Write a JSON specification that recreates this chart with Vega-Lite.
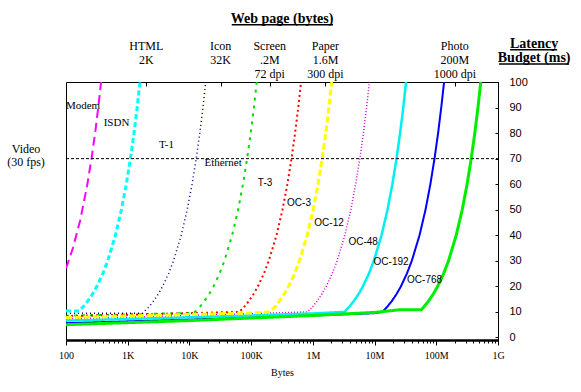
{
  "$schema": "https://vega.github.io/schema/vega-lite/v6.json",
  "autosize": "none",
  "width": 432,
  "height": 258,
  "padding": {"left": 66, "top": 82, "right": 83, "bottom": 52},
  "background": "white",
  "config": {"view": {"stroke": "black", "strokeWidth": 1}},
  "datasets": {
    "curves": [
      {"net": "Modem", "bytes": 100, "ms": 27},
      {"net": "Modem", "bytes": 130, "ms": 35.1},
      {"net": "Modem", "bytes": 170, "ms": 45.9},
      {"net": "Modem", "bytes": 220, "ms": 59.5},
      {"net": "Modem", "bytes": 260, "ms": 70.2},
      {"net": "Modem", "bytes": 300, "ms": 81},
      {"net": "Modem", "bytes": 340, "ms": 91.8},
      {"net": "Modem", "bytes": 370, "ms": 100},
      {"net": "ISDN", "bytes": 100, "ms": 10.4},
      {"net": "ISDN", "bytes": 164, "ms": 10.4},
      {"net": "ISDN", "bytes": 190, "ms": 12},
      {"net": "ISDN", "bytes": 221, "ms": 14},
      {"net": "ISDN", "bytes": 269, "ms": 17},
      {"net": "ISDN", "bytes": 316, "ms": 20},
      {"net": "ISDN", "bytes": 395, "ms": 25},
      {"net": "ISDN", "bytes": 474, "ms": 30},
      {"net": "ISDN", "bytes": 632, "ms": 40},
      {"net": "ISDN", "bytes": 790, "ms": 50},
      {"net": "ISDN", "bytes": 949, "ms": 60},
      {"net": "ISDN", "bytes": 1107, "ms": 70},
      {"net": "ISDN", "bytes": 1265, "ms": 80},
      {"net": "ISDN", "bytes": 1423, "ms": 90},
      {"net": "ISDN", "bytes": 1581, "ms": 100},
      {"net": "T-1", "bytes": 100, "ms": 9.5},
      {"net": "T-1", "bytes": 1748, "ms": 9.5},
      {"net": "T-1", "bytes": 2208, "ms": 12},
      {"net": "T-1", "bytes": 2576, "ms": 14},
      {"net": "T-1", "bytes": 3128, "ms": 17},
      {"net": "T-1", "bytes": 3680, "ms": 20},
      {"net": "T-1", "bytes": 4600, "ms": 25},
      {"net": "T-1", "bytes": 5520, "ms": 30},
      {"net": "T-1", "bytes": 7360, "ms": 40},
      {"net": "T-1", "bytes": 9200, "ms": 50},
      {"net": "T-1", "bytes": 11040, "ms": 60},
      {"net": "T-1", "bytes": 12880, "ms": 70},
      {"net": "T-1", "bytes": 14720, "ms": 80},
      {"net": "T-1", "bytes": 16560, "ms": 90},
      {"net": "T-1", "bytes": 18400, "ms": 100},
      {"net": "Ethernet", "bytes": 100, "ms": 8.5},
      {"net": "Ethernet", "bytes": 1000, "ms": 9},
      {"net": "Ethernet", "bytes": 10000, "ms": 9.6},
      {"net": "Ethernet", "bytes": 12300, "ms": 10},
      {"net": "Ethernet", "bytes": 14760, "ms": 12},
      {"net": "Ethernet", "bytes": 17220, "ms": 14},
      {"net": "Ethernet", "bytes": 20910, "ms": 17},
      {"net": "Ethernet", "bytes": 24600, "ms": 20},
      {"net": "Ethernet", "bytes": 30750, "ms": 25},
      {"net": "Ethernet", "bytes": 36900, "ms": 30},
      {"net": "Ethernet", "bytes": 49200, "ms": 40},
      {"net": "Ethernet", "bytes": 61500, "ms": 50},
      {"net": "Ethernet", "bytes": 73800, "ms": 60},
      {"net": "Ethernet", "bytes": 86100, "ms": 70},
      {"net": "Ethernet", "bytes": 98400, "ms": 80},
      {"net": "Ethernet", "bytes": 110700, "ms": 90},
      {"net": "Ethernet", "bytes": 123000, "ms": 100},
      {"net": "T-3", "bytes": 100, "ms": 8.4},
      {"net": "T-3", "bytes": 1000, "ms": 8.9},
      {"net": "T-3", "bytes": 10000, "ms": 9.5},
      {"net": "T-3", "bytes": 64400, "ms": 10},
      {"net": "T-3", "bytes": 77300, "ms": 12},
      {"net": "T-3", "bytes": 90200, "ms": 14},
      {"net": "T-3", "bytes": 109500, "ms": 17},
      {"net": "T-3", "bytes": 128800, "ms": 20},
      {"net": "T-3", "bytes": 161000, "ms": 25},
      {"net": "T-3", "bytes": 193200, "ms": 30},
      {"net": "T-3", "bytes": 257600, "ms": 40},
      {"net": "T-3", "bytes": 322000, "ms": 50},
      {"net": "T-3", "bytes": 386400, "ms": 60},
      {"net": "T-3", "bytes": 450800, "ms": 70},
      {"net": "T-3", "bytes": 515200, "ms": 80},
      {"net": "T-3", "bytes": 579600, "ms": 90},
      {"net": "T-3", "bytes": 644000, "ms": 100},
      {"net": "OC-3", "bytes": 100, "ms": 7.8},
      {"net": "OC-3", "bytes": 1000, "ms": 8.4},
      {"net": "OC-3", "bytes": 10000, "ms": 9},
      {"net": "OC-3", "bytes": 100000, "ms": 9.6},
      {"net": "OC-3", "bytes": 202000, "ms": 10},
      {"net": "OC-3", "bytes": 242400, "ms": 12},
      {"net": "OC-3", "bytes": 282800, "ms": 14},
      {"net": "OC-3", "bytes": 343400, "ms": 17},
      {"net": "OC-3", "bytes": 404000, "ms": 20},
      {"net": "OC-3", "bytes": 505000, "ms": 25},
      {"net": "OC-3", "bytes": 606000, "ms": 30},
      {"net": "OC-3", "bytes": 808000, "ms": 40},
      {"net": "OC-3", "bytes": 1010000, "ms": 50},
      {"net": "OC-3", "bytes": 1212000, "ms": 60},
      {"net": "OC-3", "bytes": 1414000, "ms": 70},
      {"net": "OC-3", "bytes": 1616000, "ms": 80},
      {"net": "OC-3", "bytes": 1818000, "ms": 90},
      {"net": "OC-3", "bytes": 2020000, "ms": 100},
      {"net": "OC-12", "bytes": 100, "ms": 7.2},
      {"net": "OC-12", "bytes": 1000, "ms": 7.9},
      {"net": "OC-12", "bytes": 10000, "ms": 8.6},
      {"net": "OC-12", "bytes": 100000, "ms": 9.3},
      {"net": "OC-12", "bytes": 824000, "ms": 10},
      {"net": "OC-12", "bytes": 988800, "ms": 12},
      {"net": "OC-12", "bytes": 1153600, "ms": 14},
      {"net": "OC-12", "bytes": 1400800, "ms": 17},
      {"net": "OC-12", "bytes": 1648000, "ms": 20},
      {"net": "OC-12", "bytes": 2060000, "ms": 25},
      {"net": "OC-12", "bytes": 2472000, "ms": 30},
      {"net": "OC-12", "bytes": 3296000, "ms": 40},
      {"net": "OC-12", "bytes": 4120000, "ms": 50},
      {"net": "OC-12", "bytes": 4944000, "ms": 60},
      {"net": "OC-12", "bytes": 5768000, "ms": 70},
      {"net": "OC-12", "bytes": 6592000, "ms": 80},
      {"net": "OC-12", "bytes": 7416000, "ms": 90},
      {"net": "OC-12", "bytes": 8240000, "ms": 100},
      {"net": "OC-48", "bytes": 100, "ms": 6.6},
      {"net": "OC-48", "bytes": 1000, "ms": 7.2},
      {"net": "OC-48", "bytes": 10000, "ms": 7.9},
      {"net": "OC-48", "bytes": 100000, "ms": 8.6},
      {"net": "OC-48", "bytes": 1000000, "ms": 9.4},
      {"net": "OC-48", "bytes": 3240000, "ms": 10},
      {"net": "OC-48", "bytes": 3888000, "ms": 12},
      {"net": "OC-48", "bytes": 4536000, "ms": 14},
      {"net": "OC-48", "bytes": 5508000, "ms": 17},
      {"net": "OC-48", "bytes": 6480000, "ms": 20},
      {"net": "OC-48", "bytes": 8100000, "ms": 25},
      {"net": "OC-48", "bytes": 9720000, "ms": 30},
      {"net": "OC-48", "bytes": 12960000, "ms": 40},
      {"net": "OC-48", "bytes": 16200000, "ms": 50},
      {"net": "OC-48", "bytes": 19440000, "ms": 60},
      {"net": "OC-48", "bytes": 22680000, "ms": 70},
      {"net": "OC-48", "bytes": 25920000, "ms": 80},
      {"net": "OC-48", "bytes": 29160000, "ms": 90},
      {"net": "OC-48", "bytes": 32400000, "ms": 100},
      {"net": "OC-192", "bytes": 100, "ms": 5.6},
      {"net": "OC-192", "bytes": 1000, "ms": 6.3},
      {"net": "OC-192", "bytes": 10000, "ms": 7},
      {"net": "OC-192", "bytes": 100000, "ms": 7.8},
      {"net": "OC-192", "bytes": 1000000, "ms": 8.6},
      {"net": "OC-192", "bytes": 10000000, "ms": 9.5},
      {"net": "OC-192", "bytes": 13370000, "ms": 10},
      {"net": "OC-192", "bytes": 16040000, "ms": 12},
      {"net": "OC-192", "bytes": 18720000, "ms": 14},
      {"net": "OC-192", "bytes": 22730000, "ms": 17},
      {"net": "OC-192", "bytes": 26740000, "ms": 20},
      {"net": "OC-192", "bytes": 33400000, "ms": 25},
      {"net": "OC-192", "bytes": 40100000, "ms": 30},
      {"net": "OC-192", "bytes": 53500000, "ms": 40},
      {"net": "OC-192", "bytes": 66900000, "ms": 50},
      {"net": "OC-192", "bytes": 80200000, "ms": 60},
      {"net": "OC-192", "bytes": 93600000, "ms": 70},
      {"net": "OC-192", "bytes": 107000000, "ms": 80},
      {"net": "OC-192", "bytes": 120300000, "ms": 90},
      {"net": "OC-192", "bytes": 133700000, "ms": 100},
      {"net": "OC-768", "bytes": 100, "ms": 5},
      {"net": "OC-768", "bytes": 1000, "ms": 5.8},
      {"net": "OC-768", "bytes": 10000, "ms": 6.6},
      {"net": "OC-768", "bytes": 100000, "ms": 7.6},
      {"net": "OC-768", "bytes": 1000000, "ms": 8.6},
      {"net": "OC-768", "bytes": 10000000, "ms": 9.8},
      {"net": "OC-768", "bytes": 25000000, "ms": 10.8},
      {"net": "OC-768", "bytes": 57000000, "ms": 10.8},
      {"net": "OC-768", "bytes": 63100000, "ms": 12},
      {"net": "OC-768", "bytes": 73600000, "ms": 14},
      {"net": "OC-768", "bytes": 89400000, "ms": 17},
      {"net": "OC-768", "bytes": 105200000, "ms": 20},
      {"net": "OC-768", "bytes": 131500000, "ms": 25},
      {"net": "OC-768", "bytes": 157800000, "ms": 30},
      {"net": "OC-768", "bytes": 210400000, "ms": 40},
      {"net": "OC-768", "bytes": 263000000, "ms": 50},
      {"net": "OC-768", "bytes": 315600000, "ms": 60},
      {"net": "OC-768", "bytes": 368200000, "ms": 70},
      {"net": "OC-768", "bytes": 420800000, "ms": 80},
      {"net": "OC-768", "bytes": 473400000, "ms": 90},
      {"net": "OC-768", "bytes": 526000000, "ms": 100}
    ],
    "serifLabels": [
      {"label": "Modem", "bytes": 188.6, "ms": 90.8},
      {"label": "ISDN", "bytes": 658, "ms": 83.8},
      {"label": "T-1", "bytes": 4256, "ms": 75.5},
      {"label": "Ethernet", "bytes": 35100, "ms": 68.1}
    ],
    "sansLabels": [
      {"label": "T-3", "bytes": 168000, "ms": 60.3},
      {"label": "OC-3", "bytes": 597000, "ms": 52.8},
      {"label": "OC-12", "bytes": 1830000, "ms": 44.8},
      {"label": "OC-48", "bytes": 6520000, "ms": 37.4},
      {"label": "OC-192", "bytes": 18500000, "ms": 29.7},
      {"label": "OC-768", "bytes": 64600000, "ms": 22.3}
    ],
    "pageTypes": [
      {"lines": ["HTML", "2K"], "bytes": 2000, "ms": 112.5},
      {"lines": ["Icon", "32K"], "bytes": 32000, "ms": 112.5},
      {"lines": ["Screen", ".2M", "72 dpi"], "bytes": 200000, "ms": 112.5},
      {"lines": ["Paper", "1.6M", "300 dpi"], "bytes": 1600000, "ms": 112.5},
      {"lines": ["Photo", "200M", "1000 dpi"], "bytes": 200000000, "ms": 112.5}
    ],
    "headings": [
      {"lines": ["Web page (bytes)"], "bytes": 317000, "ms": 123.2},
      {"lines": ["Latency", "Budget (ms)"], "bytes": 3850000000, "ms": 113.2}
    ],
    "underlines": [
      {"b1": 48500, "b2": 2120000, "ms": 122.4},
      {"b1": 1570000000, "b2": 9080000000, "ms": 112.6},
      {"b1": 1040000000, "b2": 14200000000, "ms": 107.0}
    ],
    "video": [
      {"lines": ["Video", "(30 fps)"], "bytes": 22.5, "ms": 72.2, "from": 100, "to": 1000000000, "level": 70}
    ]
  },
  "resolve": {"axis": {"x": "independent", "y": "independent"}},
  "layer": [
    {
      "data": {"name": "curves"},
      "transform": [{"filter": {"field": "net", "oneOf": ["Modem", "Ethernet", "T-3", "OC-192"]}}],
      "mark": {"type": "line", "strokeWidth": 2, "clip": true},
      "encoding": {
        "x": {
          "field": "bytes", "type": "quantitative",
          "scale": {"type": "log", "domain": [100, 1000000000], "nice": false},
          "axis": {
            "orient": "bottom",
            "values": [100,200,300,400,500,600,700,800,900,1000,2000,3000,4000,5000,6000,7000,8000,9000,10000,20000,30000,40000,50000,60000,70000,80000,90000,100000,200000,300000,400000,500000,600000,700000,800000,900000,1000000,2000000,3000000,4000000,5000000,6000000,7000000,8000000,9000000,10000000,20000000,30000000,40000000,50000000,60000000,70000000,80000000,90000000,100000000,200000000,300000000,400000000,500000000,600000000,700000000,800000000,900000000,1000000000],
            "labelExpr": "datum.value == 100 ? '100' : datum.value == 1000 ? '1K' : datum.value == 10000 ? '10K' : datum.value == 100000 ? '100K' : datum.value == 1000000 ? '1M' : datum.value == 10000000 ? '10M' : datum.value == 100000000 ? '100M' : datum.value == 1000000000 ? '1G' : ''",
            "labelFlush": false,
            "labelOverlap": false,
            "labelFont": "Liberation Serif",
            "labelFontSize": 10,
            "labelColor": "black",
            "labelPadding": 5,
            "tickColor": "black",
            "tickSize": {"condition": {"test": "abs(log(datum.value)/LN10 - round(log(datum.value)/LN10)) < 0.001", "value": 5}, "value": 3},
            "domainColor": "black",
            "domainWidth": 2.5,
            "grid": false,
            "title": "Bytes",
            "titleFont": "Liberation Serif",
            "titleFontSize": 10,
            "titleFontWeight": "normal",
            "titleColor": "black",
            "titlePadding": 7
          }
        },
        "y": {
          "field": "ms", "type": "quantitative",
          "scale": {"domain": [-1, 100], "nice": false, "zero": false},
          "axis": {
            "orient": "right",
            "values": [0,10,20,30,40,50,60,70,80,90,100],
            "tickSize": -3,
            "tickColor": "black",
            "labelPadding": 14,
            "labelFont": "Liberation Sans",
            "labelFontSize": 11,
            "labelColor": "black",
            "labelAlign": "left",
            "domainColor": "black",
            "grid": false,
            "title": null
          }
        },
        "color": {"field": "net", "type": "nominal", "legend": null,
          "scale": {"domain": ["Modem","ISDN","T-1","Ethernet","T-3","OC-3","OC-12","OC-48","OC-192","OC-768"],
                    "range": ["#FF00FF","#00FFFF","#000080","#00DD00","#FF0000","#FFFF00","#D000D0","#00F0F0","#0000FF","#00EE00"]}},
        "strokeDash": {"field": "net", "type": "nominal", "legend": null,
          "scale": {"domain": ["Modem","ISDN","T-1","Ethernet","T-3","OC-3","OC-12","OC-48","OC-192","OC-768"],
                    "range": [[9,5],[5,3],[1,3],[3,5],[2,3],[6,3],[1,2],[1,0],[1,0],[1,0]]}}
      }
    },
    {
      "data": {"name": "curves"},
      "transform": [{"filter": {"field": "net", "oneOf": ["T-1", "OC-12"]}}],
      "mark": {"type": "line", "strokeWidth": 1.5, "clip": true},
      "encoding": {
        "x": {"field": "bytes", "type": "quantitative", "axis": null},
        "y": {"field": "ms", "type": "quantitative", "axis": null},
        "color": {"field": "net", "type": "nominal", "legend": null},
        "strokeDash": {"field": "net", "type": "nominal", "legend": null}
      }
    },
    {
      "data": {"name": "curves"},
      "transform": [{"filter": {"field": "net", "oneOf": ["OC-48"]}}],
      "mark": {"type": "line", "strokeWidth": 2.5, "clip": true},
      "encoding": {
        "x": {"field": "bytes", "type": "quantitative", "axis": null},
        "y": {"field": "ms", "type": "quantitative", "axis": null},
        "color": {"field": "net", "type": "nominal", "legend": null},
        "strokeDash": {"field": "net", "type": "nominal", "legend": null}
      }
    },
    {
      "data": {"name": "curves"},
      "transform": [{"filter": {"field": "net", "oneOf": ["ISDN", "OC-3", "OC-768"]}}],
      "mark": {"type": "line", "strokeWidth": 3, "clip": true},
      "encoding": {
        "x": {"field": "bytes", "type": "quantitative", "axis": null},
        "y": {"field": "ms", "type": "quantitative", "axis": null},
        "color": {"field": "net", "type": "nominal", "legend": null},
        "strokeDash": {"field": "net", "type": "nominal", "legend": null}
      }
    },
    {
      "data": {"name": "video"},
      "mark": {"type": "rule", "color": "black", "strokeWidth": 1, "strokeDash": [3, 2]},
      "encoding": {
        "x": {
          "field": "from", "type": "quantitative",
          "axis": {
            "orient": "top",
            "values": [2000, 32000, 200000, 1600000, 200000000],
            "tickSize": -4,
            "tickColor": "black",
            "labels": false,
            "domain": false,
            "grid": false,
            "title": null
          }
        },
        "x2": {"field": "to"},
        "y": {"field": "level", "type": "quantitative", "axis": null}
      }
    },
    {
      "data": {"name": "video"},
      "mark": {"type": "text", "font": "Liberation Serif", "fontSize": 12, "align": "center", "baseline": "alphabetic", "lineHeight": 13, "color": "black"},
      "encoding": {
        "x": {"field": "bytes", "type": "quantitative", "axis": null},
        "y": {"field": "ms", "type": "quantitative", "axis": null},
        "text": {"field": "lines", "type": "nominal"}
      }
    },
    {
      "data": {"name": "serifLabels"},
      "mark": {"type": "text", "font": "Liberation Serif", "fontSize": 11, "align": "center", "baseline": "middle", "color": "black"},
      "encoding": {
        "x": {"field": "bytes", "type": "quantitative", "axis": null},
        "y": {"field": "ms", "type": "quantitative", "axis": null},
        "text": {"field": "label", "type": "nominal"}
      }
    },
    {
      "data": {"name": "sansLabels"},
      "mark": {"type": "text", "font": "Liberation Sans", "fontSize": 10, "align": "center", "baseline": "middle", "color": "black"},
      "encoding": {
        "x": {"field": "bytes", "type": "quantitative", "axis": null},
        "y": {"field": "ms", "type": "quantitative", "axis": null},
        "text": {"field": "label", "type": "nominal"}
      }
    },
    {
      "data": {"name": "pageTypes"},
      "mark": {"type": "text", "font": "Liberation Serif", "fontSize": 12, "align": "center", "baseline": "alphabetic", "lineHeight": 14, "color": "black"},
      "encoding": {
        "x": {"field": "bytes", "type": "quantitative", "axis": null},
        "y": {"field": "ms", "type": "quantitative", "axis": null},
        "text": {"field": "lines", "type": "nominal"}
      }
    },
    {
      "data": {"name": "headings"},
      "mark": {"type": "text", "font": "Liberation Serif", "fontSize": 14, "fontWeight": "bold", "align": "center", "baseline": "alphabetic", "lineHeight": 13.5, "color": "black"},
      "encoding": {
        "x": {"field": "bytes", "type": "quantitative", "axis": null},
        "y": {"field": "ms", "type": "quantitative", "axis": null},
        "text": {"field": "lines", "type": "nominal"}
      }
    },
    {
      "data": {"name": "underlines"},
      "mark": {"type": "rule", "color": "black", "strokeWidth": 1.5},
      "encoding": {
        "x": {"field": "b1", "type": "quantitative", "axis": null},
        "x2": {"field": "b2"},
        "y": {"field": "ms", "type": "quantitative", "axis": null}
      }
    }
  ]
}
